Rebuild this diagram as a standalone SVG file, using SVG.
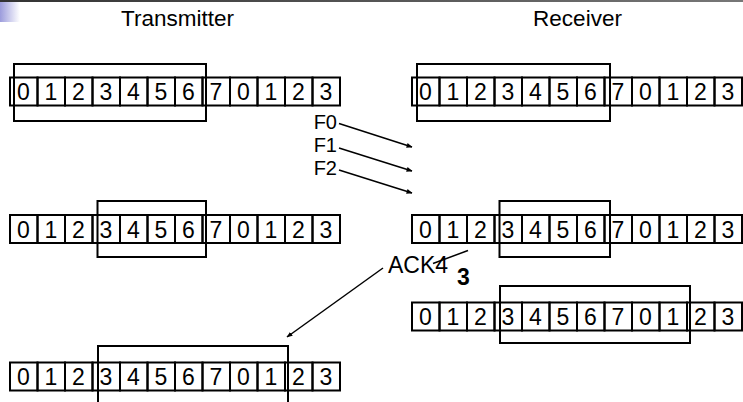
<svg xmlns="http://www.w3.org/2000/svg" width="743" height="402" viewBox="0 0 743 402">
<style>
.cell{fill:none;stroke:#000;stroke-width:2}
.win{fill:none;stroke:#000;stroke-width:2}
.d{font-family:"Liberation Sans",Arial,sans-serif;font-size:23px;text-anchor:middle;fill:#000}
.t{font-family:"Liberation Sans",Arial,sans-serif;font-size:22.5px;text-anchor:middle;fill:#000}
.f{font-family:"Liberation Sans",Arial,sans-serif;font-size:20px;fill:#000}
.a{font-family:"Liberation Sans",Arial,sans-serif;font-size:23px;fill:#000}
.c{stroke:#000;stroke-width:1.5;fill:none}
</style>
<defs>
<linearGradient id="gb" x1="0" y1="0" x2="1" y2="0"><stop offset="0" stop-color="#9c9cdc"/><stop offset="1" stop-color="#fff"/></linearGradient>
<linearGradient id="gt" x1="0" y1="0" x2="1" y2="0"><stop offset="0" stop-color="#333"/><stop offset="1" stop-color="#777"/></linearGradient>
<marker id="ah" viewBox="0 0 10 10" refX="9" refY="5" markerWidth="6" markerHeight="6" orient="auto" markerUnits="userSpaceOnUse"><path d="M0,1 L10,5 L0,9 z" fill="#000"/></marker>
<g id="cells">
<rect class="cell" x="0" y="0" width="27.5" height="28"/><rect class="cell" x="27.5" y="0" width="27.5" height="28"/><rect class="cell" x="55" y="0" width="27.5" height="28"/><rect class="cell" x="82.5" y="0" width="27.5" height="28"/><rect class="cell" x="110" y="0" width="27.5" height="28"/><rect class="cell" x="137.5" y="0" width="27.5" height="28"/><rect class="cell" x="165" y="0" width="27.5" height="28"/><rect class="cell" x="192.5" y="0" width="27.5" height="28"/><rect class="cell" x="220" y="0" width="27.5" height="28"/><rect class="cell" x="247.5" y="0" width="27.5" height="28"/><rect class="cell" x="275" y="0" width="27.5" height="28"/><rect class="cell" x="302.5" y="0" width="27.5" height="28"/>
<g class="d"><text x="13.5" y="22.5">0</text><text x="41" y="22.5">1</text><text x="68.5" y="22.5">2</text><text x="96" y="22.5">3</text><text x="123.5" y="22.5">4</text><text x="151" y="22.5">5</text><text x="178.5" y="22.5">6</text><text x="206" y="22.5">7</text><text x="233.5" y="22.5">0</text><text x="261" y="22.5">1</text><text x="288.5" y="22.5">2</text><text x="316" y="22.5">3</text></g>
</g>
</defs>
<rect x="0" y="0" width="743" height="402" fill="#fff"/>
<rect x="0" y="0" width="743" height="2" fill="url(#gt)"/>
<rect x="0" y="2" width="20" height="20" fill="url(#gb)"/>
<text class="t" x="177.5" y="25.5">Transmitter</text>
<text class="t" x="577.5" y="25.5">Receiver</text>
<g id="tx1"><use href="#cells" x="10" y="77.5"/><rect class="win" x="14" y="64" width="192" height="57"/></g>
<g id="rx1"><use href="#cells" x="412" y="77.5"/><rect class="win" x="417" y="64" width="193" height="57"/></g>
<g id="tx2"><use href="#cells" x="10" y="215"/><rect class="win" x="97.5" y="201" width="108.5" height="56"/></g>
<g id="rx2"><use href="#cells" x="412" y="215"/><rect class="win" x="499.5" y="201" width="110.5" height="56"/></g>
<g id="rx3"><use href="#cells" x="412" y="302.5"/><rect class="win" x="500" y="286" width="190" height="57"/></g>
<g id="tx3"><use href="#cells" x="10" y="362.5"/><rect class="win" x="98" y="346" width="190" height="60"/></g>
<g id="labels">
<text class="f" x="337" y="129" text-anchor="end">F0</text>
<text class="f" x="337" y="152" text-anchor="end">F1</text>
<text class="f" x="337" y="175" text-anchor="end">F2</text>
<text class="a" x="388" y="273">ACK4</text>
<text x="457" y="285" font-family="Liberation Sans,Arial,sans-serif" font-size="23" font-weight="bold">3</text>
</g>
<g id="connectors">
<line class="c" x1="339" y1="123.5" x2="412" y2="147" marker-end="url(#ah)"/>
<line class="c" x1="339" y1="148" x2="412" y2="171" marker-end="url(#ah)"/>
<line class="c" x1="339" y1="170" x2="412" y2="193" marker-end="url(#ah)"/>
<line class="c" x1="383" y1="268" x2="287" y2="337" marker-end="url(#ah)"/>
<line class="c" x1="433" y1="263.5" x2="468" y2="250.5"/>
</g>
</svg>
